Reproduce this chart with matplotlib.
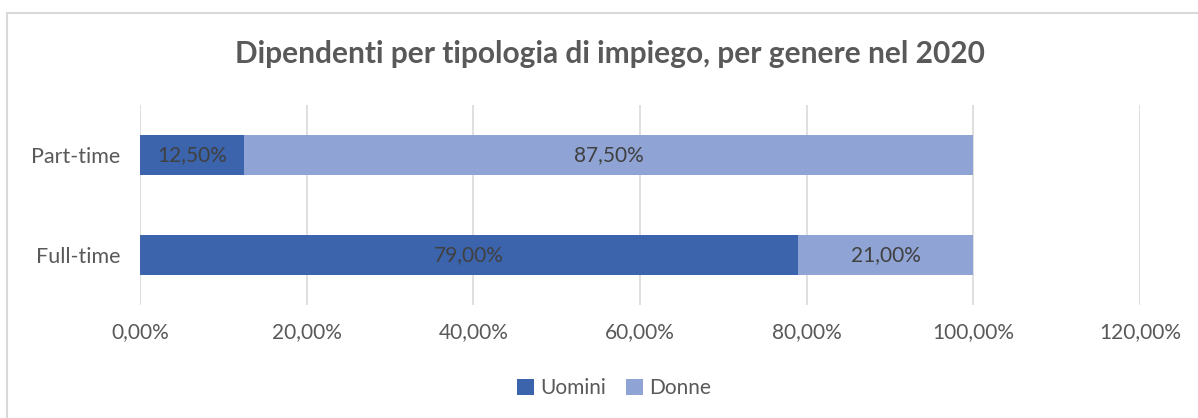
import matplotlib.pyplot as plt
from matplotlib.patches import Rectangle

# Dati
categorie = ["Full-time", "Part-time"]
uomini = [79.0, 12.5]
donne = [21.0, 87.5]
xticks = [0, 20, 40, 60, 80, 100, 120]

col_uomini = "#3C64AC"
col_donne = "#8FA3D4"
grigio = "#595959"

plt.rcParams['font.family'] = ['Lato', 'DejaVu Sans']

fig = plt.figure(figsize=(11.98, 4.18), dpi=100)
ax = fig.add_axes([140 / 1198, 1 - 305 / 418, 1000 / 1198, 200 / 418])

# bordo del grafico
fig.patches.append(Rectangle((7 / 1198, -0.01), 1.02, 1 - 13 / 418 + 0.01,
                             transform=fig.transFigure, fill=False,
                             edgecolor="#D9D9D9", linewidth=1.5))

y = range(len(categorie))
b1 = ax.barh(y, uomini, height=0.4, color=col_uomini, label="Uomini", zorder=3)
b2 = ax.barh(y, donne, left=uomini, height=0.4, color=col_donne, label="Donne", zorder=3)

def fmt(v):
    return f"{v:.2f}".replace(".", ",") + "%"

for bars, vals in ((b1, uomini), (b2, donne)):
    for r, v in zip(bars, vals):
        ax.text(r.get_x() + r.get_width() / 2, r.get_y() + r.get_height() / 2,
                fmt(v), ha="center", va="center", fontsize=15, color="#404040", zorder=4)

ax.set_xlim(0, 120)
ax.set_ylim(-0.5, 1.5)
ax.set_xticks(xticks)
ax.set_xticklabels([fmt(v) for v in xticks])
ax.set_yticks(list(y))
ax.set_yticklabels(categorie)
ax.tick_params(length=0, labelsize=15, colors=grigio, pad=12)
ax.tick_params(axis="y", pad=14, labelsize=15.5)
ax.grid(axis="x", color="#D9D9D9", linewidth=1.2, zorder=0)
for s in ax.spines.values():
    s.set_visible(False)

fig.text(610 / 1198, 1 - 54 / 418, "Dipendenti per tipologia di impiego, per genere nel 2020",
         ha="center", va="center", fontsize=21.5, fontweight="bold", color=grigio)

fig.legend(handles=[b1, b2], loc="center", bbox_to_anchor=(614 / 1198, 1 - 388 / 418),
           ncol=2, frameon=False, fontsize=15, labelcolor=grigio,
           handlelength=0.8, handleheight=0.8, handletextpad=0.3, columnspacing=1.0)

fig.savefig("out.png", dpi=100)
